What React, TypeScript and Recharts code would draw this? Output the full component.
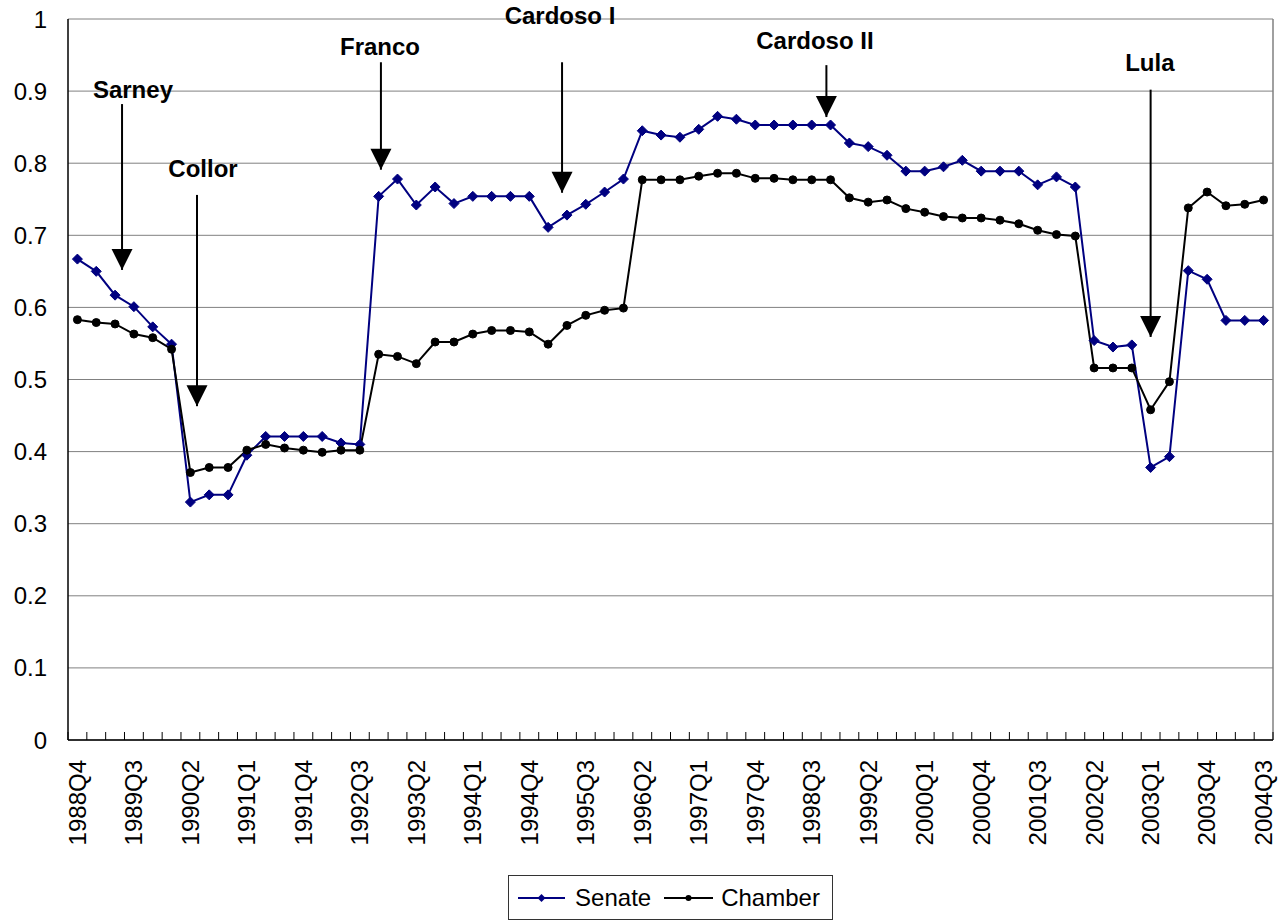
import React from "react";
import {
  CartesianGrid,
  Legend,
  Line,
  LineChart,
  ReferenceDot,
  ReferenceLine,
  XAxis,
  YAxis,
} from "recharts";

const FONT = '"Liberation Sans", Arial, sans-serif';

const QUARTERS = [
  "1988Q4", "1989Q1", "1989Q2", "1989Q3", "1989Q4", "1990Q1", "1990Q2", "1990Q3",
  "1990Q4", "1991Q1", "1991Q2", "1991Q3", "1991Q4", "1992Q1", "1992Q2", "1992Q3",
  "1992Q4", "1993Q1", "1993Q2", "1993Q3", "1993Q4", "1994Q1", "1994Q2", "1994Q3",
  "1994Q4", "1995Q1", "1995Q2", "1995Q3", "1995Q4", "1996Q1", "1996Q2", "1996Q3",
  "1996Q4", "1997Q1", "1997Q2", "1997Q3", "1997Q4", "1998Q1", "1998Q2", "1998Q3",
  "1998Q4", "1999Q1", "1999Q2", "1999Q3", "1999Q4", "2000Q1", "2000Q2", "2000Q3",
  "2000Q4", "2001Q1", "2001Q2", "2001Q3", "2001Q4", "2002Q1", "2002Q2", "2002Q3",
  "2002Q4", "2003Q1", "2003Q2", "2003Q3", "2003Q4", "2004Q1", "2004Q2", "2004Q3",
];

const SENATE = [
  0.667, 0.65, 0.617, 0.601, 0.573, 0.549, 0.33, 0.34,
  0.34, 0.395, 0.421, 0.421, 0.421, 0.421, 0.412, 0.41,
  0.754, 0.778, 0.742, 0.767, 0.744, 0.754, 0.754, 0.754,
  0.754, 0.711, 0.728, 0.743, 0.76, 0.778, 0.845, 0.839,
  0.836, 0.847, 0.865, 0.861, 0.853, 0.853, 0.853, 0.853,
  0.853, 0.828, 0.823, 0.811, 0.789, 0.789, 0.795, 0.804,
  0.789, 0.789, 0.789, 0.77, 0.781, 0.767, 0.554, 0.545,
  0.548, 0.378, 0.393, 0.651, 0.639, 0.582, 0.582, 0.582,
];

const CHAMBER = [
  0.583, 0.579, 0.577, 0.563, 0.558, 0.542, 0.371, 0.378,
  0.378, 0.402, 0.41, 0.405, 0.402, 0.399, 0.402, 0.402,
  0.535, 0.532, 0.522, 0.552, 0.552, 0.563, 0.568, 0.568,
  0.566, 0.549, 0.575, 0.589, 0.596, 0.599, 0.777, 0.777,
  0.777, 0.782, 0.786, 0.786, 0.779, 0.779, 0.777, 0.777,
  0.777, 0.752, 0.746, 0.749, 0.737, 0.732, 0.726, 0.724,
  0.724, 0.721, 0.716, 0.707, 0.701, 0.699, 0.516, 0.516,
  0.516, 0.458, 0.497, 0.738, 0.76, 0.741, 0.743, 0.749,
];

const Y_TICKS = [0, 0.1, 0.2, 0.3, 0.4, 0.5, 0.6, 0.7, 0.8, 0.9, 1];
const LABEL_EVERY = 3;

// presidencies: label position, arrow shaft top and arrow tip (x = quarter index)
const EVENTS = [
  { label: "Sarney", textAt: 2.95, textY: 0.89, arrowAt: 2.37, from: 0.882, tip: 0.652 },
  { label: "Collor", textAt: 6.67, textY: 0.781, arrowAt: 6.35, from: 0.756, tip: 0.463 },
  { label: "Franco", textAt: 16.07, textY: 0.95, arrowAt: 16.12, from: 0.94, tip: 0.791 },
  { label: "Cardoso I", textAt: 25.63, textY: 0.993, arrowAt: 25.74, from: 0.94, tip: 0.759 },
  { label: "Cardoso II", textAt: 39.17, textY: 0.958, arrowAt: 39.78, from: 0.936, tip: 0.864 },
  { label: "Lula", textAt: 56.96, textY: 0.928, arrowAt: 57.0, from: 0.902, tip: 0.559 },
];

const rows = QUARTERS.map((q, i) => ({ i, q, senate: SENATE[i], chamber: CHAMBER[i] }));

// tick marks sit between quarters, labels on every third quarter
const xTicks: number[] = [];
QUARTERS.forEach((_, i) => {
  xTicks.push(i - 0.5);
  if (i % LABEL_EVERY === 0) xTicks.push(i);
});
xTicks.push(QUARTERS.length - 0.5);

function QuarterTick(props: any) {
  const { x, y, payload } = props;
  const v = payload.value;
  if (!Number.isInteger(v)) {
    return <line x1={x} x2={x} y1={y} y2={y - 8} stroke="#000" strokeWidth={1} />;
  }
  const ty = y + 20;
  return (
    <text
      x={x}
      y={ty}
      dy="0.35em"
      transform={`rotate(-90 ${x} ${ty})`}
      textAnchor="end"
      fontSize={24}
      fontFamily={FONT}
      fill="#000"
    >
      {QUARTERS[v]}
    </text>
  );
}

function Diamond(props: any) {
  const { cx, cy } = props;
  if (cx == null || cy == null) return null;
  const r = 5;
  return (
    <path
      d={`M${cx},${cy - r}L${cx + r},${cy}L${cx},${cy + r}L${cx - r},${cy}Z`}
      fill="#000080"
      stroke="#000080"
    />
  );
}

function Circle(props: any) {
  const { cx, cy } = props;
  if (cx == null || cy == null) return null;
  return <circle cx={cx} cy={cy} r={4} fill="#000" stroke="#000" />;
}

function ArrowHead(props: any) {
  const { cx, cy } = props;
  return (
    <polygon
      points={`${cx - 10.5},${cy - 21} ${cx + 10.5},${cy - 21} ${cx},${cy}`}
      fill="#000"
    />
  );
}

function LegendBox() {
  return (
    <div style={{ display: "flex", justifyContent: "center", paddingLeft: 68 }}>
      <div
        style={{
          display: "flex",
          alignItems: "center",
          height: 43,
          border: "1px solid #333",
          padding: "0 12px 0 9px",
          fontFamily: FONT,
          fontSize: 24,
          color: "#000",
        }}
      >
        <svg width={47} height={12} style={{ marginRight: 10 }}>
          <line x1={0} x2={47} y1={6} y2={6} stroke="#000080" strokeWidth={2} />
          <path d="M23.5,2L27.5,6L23.5,10L19.5,6Z" fill="#000080" />
        </svg>
        <span style={{ marginRight: 13 }}>Senate</span>
        <svg width={49} height={12} style={{ marginRight: 8 }}>
          <line x1={0} x2={49} y1={6} y2={6} stroke="#000" strokeWidth={2} />
          <circle cx={24.5} cy={6} r={3} fill="#000" />
        </svg>
        <span>Chamber</span>
      </div>
    </div>
  );
}

export default function App() {
  return (
    <div>
      <style>{"body{margin:0}"}</style>
      <LineChart
        width={1284}
        height={922}
        data={rows}
        margin={{ top: 19, right: 11, left: 0, bottom: 2 }}
      >
        <CartesianGrid vertical={false} stroke="#808080" strokeWidth={1} />
        <XAxis
          dataKey="i"
          type="number"
          domain={[-0.5, QUARTERS.length - 0.5]}
          ticks={xTicks}
          interval={0}
          tick={QuarterTick}
          tickLine={false}
          tickSize={0}
          tickMargin={0}
          height={135}
          axisLine={{ stroke: "#000", strokeWidth: 1.5 }}
        />
        <YAxis
          domain={[0, 1]}
          ticks={Y_TICKS}
          interval={0}
          width={68}
          tickLine={false}
          tickSize={0}
          tickMargin={21}
          axisLine={{ stroke: "#000", strokeWidth: 1.5 }}
          tick={{ fontSize: 24, fontFamily: FONT, fill: "#000" }}
        />
        <ReferenceLine x={QUARTERS.length - 0.5} stroke="#808080" strokeWidth={1.5} />
        <Legend verticalAlign="bottom" content={() => <LegendBox />} />
        <Line
          dataKey="senate"
          name="Senate"
          type="linear"
          stroke="#000080"
          strokeWidth={2}
          dot={Diamond}
          activeDot={false}
          isAnimationActive={false}
        />
        <Line
          dataKey="chamber"
          name="Chamber"
          type="linear"
          stroke="#000"
          strokeWidth={2}
          dot={Circle}
          activeDot={false}
          isAnimationActive={false}
        />
        {EVENTS.map((e) => (
          <ReferenceLine
            key={`shaft-${e.label}`}
            segment={[
              { x: e.arrowAt, y: e.from },
              { x: e.arrowAt, y: e.tip },
            ]}
            stroke="#000"
            strokeWidth={2}
          />
        ))}
        {EVENTS.map((e) => (
          <ReferenceDot
            key={`head-${e.label}`}
            x={e.arrowAt}
            y={e.tip}
            shape={ArrowHead}
          />
        ))}
        {EVENTS.map((e) => (
          <ReferenceDot
            key={`text-${e.label}`}
            x={e.textAt}
            y={e.textY}
            shape={(p: any) => (
              <text
                x={p.cx}
                y={p.cy}
                textAnchor="middle"
                fontSize={24}
                fontWeight="bold"
                fontFamily={FONT}
                fill="#000"
              >
                {e.label}
              </text>
            )}
          />
        ))}
      </LineChart>
    </div>
  );
}
